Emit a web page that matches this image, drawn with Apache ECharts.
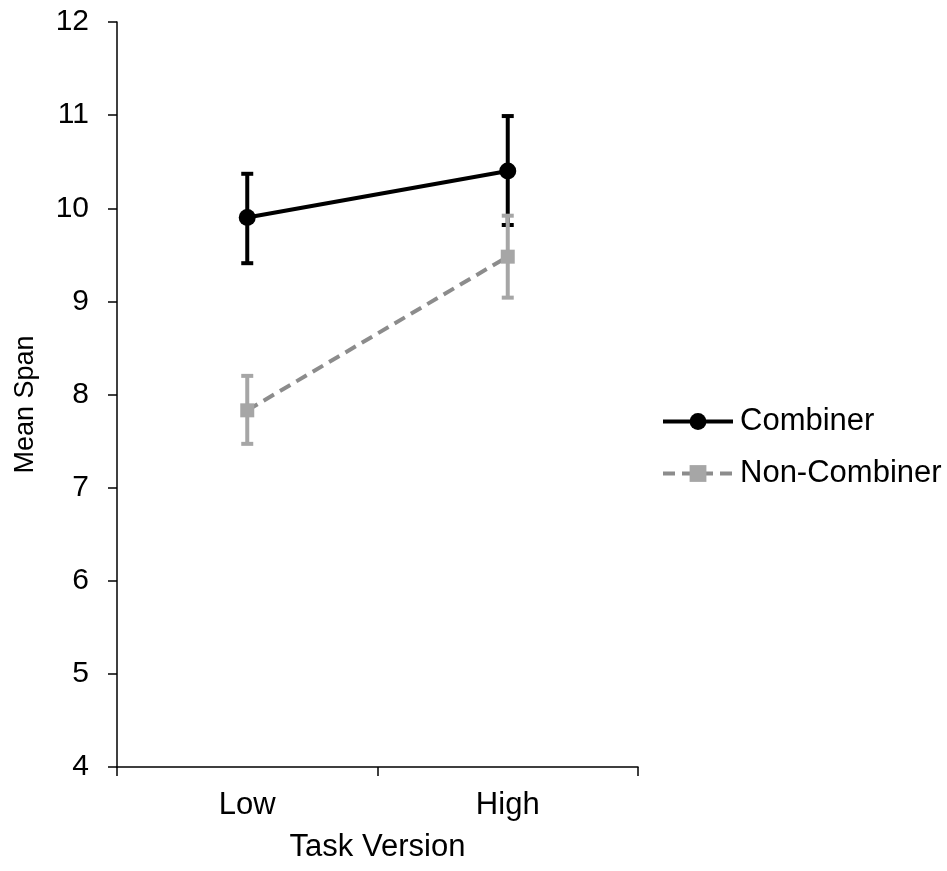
<!DOCTYPE html>
<html>
<head>
<meta charset="utf-8">
<script src="https://cdn.jsdelivr.net/npm/echarts@6/dist/echarts.min.js"></script>
<style>html,body{margin:0;padding:0;background:#fff;}#c{width:947px;height:871px;}</style>
</head>
<body>
<div id="c"></div>
<script>
const categories = ['Low', 'High'];
const combinerMean = [9.90, 10.40];
const combinerLow = [9.41, 9.82];
const combinerHigh = [10.37, 10.99];
const nonCombinerMean = [7.83, 9.48];
const nonCombinerLow = [7.47, 9.04];
const nonCombinerHigh = [8.20, 9.92];
const yTicks = [4, 5, 6, 7, 8, 9, 10, 11, 12];

const FONT = 'Liberation Sans, Arial, sans-serif';

function errData(lo, hi) {
  return categories.map((c, i) => [i, lo[i], hi[i]]);
}
function errSeries(name, data, color) {
  return {
    type: 'custom',
    name: name,
    silent: true,
    data: data,
    z: color === '#000000' ? 2 : 4,
    renderItem: function (params, api) {
      const x = api.value(0);
      const p1 = api.coord([x, api.value(1)]);
      const p2 = api.coord([x, api.value(2)]);
      const hw = 6;
      const st = { stroke: color, lineWidth: 4 };
      return {
        type: 'group',
        children: [
          { type: 'line', shape: { x1: p1[0], y1: p1[1], x2: p2[0], y2: p2[1] }, style: st },
          { type: 'line', shape: { x1: p1[0] - hw, y1: p1[1], x2: p1[0] + hw, y2: p1[1] }, style: st },
          { type: 'line', shape: { x1: p2[0] - hw, y1: p2[1], x2: p2[0] + hw, y2: p2[1] }, style: st }
        ]
      };
    }
  };
}

const chart = echarts.init(document.getElementById('c'));
chart.setOption({
  animation: false,
  backgroundColor: '#ffffff',
  grid: { left: 117, top: 22, right: 309, bottom: 104, containLabel: false },
  legend: {
    data: ['Combiner', 'Non-Combiner'],
    orient: 'vertical',
    left: 656,
    top: 401,
    itemWidth: 70,
    itemHeight: 21,
    itemGap: 21,
    lineStyle: { width: 4 },
    textStyle: { fontFamily: FONT, fontSize: 31, color: '#000', padding: [0, 0, 0, 2] }
  },
  xAxis: {
    type: 'category',
    data: categories,
    boundaryGap: true,
    name: 'Task Version',
    nameLocation: 'middle',
    nameGap: 65,
    nameTextStyle: { fontFamily: FONT, fontSize: 31, color: '#000' },
    axisLine: { lineStyle: { color: '#000', width: 1.5 } },
    axisTick: { show: true, length: 9, inside: false, lineStyle: { color: '#000', width: 1.5 } },
    axisLabel: { fontFamily: FONT, fontSize: 31, color: '#000', margin: 23 },
    splitLine: { show: false }
  },
  yAxis: {
    type: 'value',
    min: 4,
    max: 12,
    interval: 1,
    name: 'Mean Span',
    nameLocation: 'middle',
    nameGap: 78,
    nameTextStyle: { fontFamily: FONT, fontSize: 27, color: '#000', padding: [0, 20, 0, 0] },
    axisLine: { show: true, lineStyle: { color: '#000', width: 1.5 } },
    axisTick: { show: true, length: 9, lineStyle: { color: '#000', width: 1.5 } },
    axisLabel: {
      fontFamily: FONT, fontSize: 30, color: '#000', margin: 28,
      formatter: function (v) { return yTicks.indexOf(v) >= 0 ? String(v) : ''; }
    },
    splitLine: { show: false }
  },
  series: [
    errSeries('CombinerErr', errData(combinerLow, combinerHigh), '#000000'),
    {
      name: 'Combiner',
      type: 'line',
      data: combinerMean,
      symbol: 'circle',
      symbolSize: 17,
      z: 3,
      lineStyle: { color: '#000000', width: 4, type: 'solid' },
      itemStyle: { color: '#000000' }
    },
    errSeries('NonCombinerErr', errData(nonCombinerLow, nonCombinerHigh), '#a6a6a6'),
    {
      name: 'Non-Combiner',
      type: 'line',
      data: nonCombinerMean,
      symbol: 'rect',
      symbolSize: 14,
      z: 5,
      lineStyle: { color: '#8c8c8c', width: 4, type: [12, 7] },
      itemStyle: { color: '#a6a6a6' }
    }
  ]
});
</script>
</body>
</html>
